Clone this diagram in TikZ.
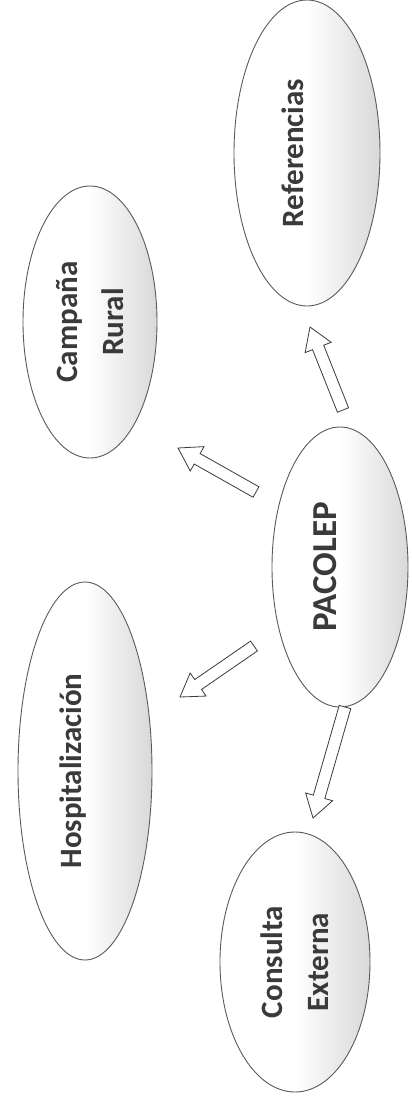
\documentclass[tikz,border=0pt]{standalone}
\usepackage{fontspec}
\setmainfont{Carlito}
\usetikzlibrary{shapes.geometric,calc}
\definecolor{ink}{HTML}{3A3A3A}
\definecolor{edgegray}{HTML}{5A5A5A}
\tikzset{
  bubble/.style={ellipse, draw=edgegray, line width=0.9pt, rotate=90, inner sep=0pt,
    left color=white, right color=gray!30, middle color=white, text=ink,
    font=\bfseries\fontsize{31}{46}\selectfont},
  twoline/.style={align=center},
  oneline/.style={text height=20pt, text depth=28pt},
  barrow/.style={draw=ink, line width=0.8pt, fill=white, line join=miter}
}
\newcommand{\blockarrow}[2]{%
  \draw[barrow] ($(#1)!6pt!90:(#2)$) -- ($(#2)!22pt!(#1)!6pt!90:(#2)$)
    -- ($(#2)!22pt!(#1)!14pt!90:(#2)$) -- (#2)
    -- ($(#2)!22pt!(#1)!14pt!-90:(#2)$) -- ($(#2)!22pt!(#1)!6pt!-90:(#2)$)
    -- ($(#1)!6pt!-90:(#2)$) -- cycle;}
\begin{document}
\begin{tikzpicture}[x=1pt,y=-1pt]
\useasboundingbox (0,0) rectangle (412,1101);
\node[bubble, oneline, minimum width=306pt, minimum height=146pt] (ref) at (307,153) {Referencias};
\node[bubble, twoline, minimum width=272pt, minimum height=134pt] (cam) at (90,322) {Campaña\\Rural};
\node[bubble, oneline, minimum width=280pt, minimum height=136pt, font=\bfseries\fontsize{35}{42}\selectfont, text height=22pt, text depth=30pt] (pac) at (340,567) {PACOLEP};
\node[bubble, oneline, minimum width=378pt, minimum height=134pt] (hos) at (85,771) {Hospitalización};
\node[bubble, twoline, minimum width=260pt, minimum height=150pt] (con) at (295,962) {Consulta\\Externa};
\coordinate (t1) at (343,410); \coordinate (h1) at (310,327);
\coordinate (t2) at (256,492); \coordinate (h2) at (178,448);
\coordinate (t3) at (254,646); \coordinate (h3) at (180,697);
\coordinate (t4) at (345,707); \coordinate (h4) at (313,818);
\blockarrow{t1}{h1}
\blockarrow{t2}{h2}
\blockarrow{t3}{h3}
\blockarrow{t4}{h4}
\end{tikzpicture}
\end{document}
